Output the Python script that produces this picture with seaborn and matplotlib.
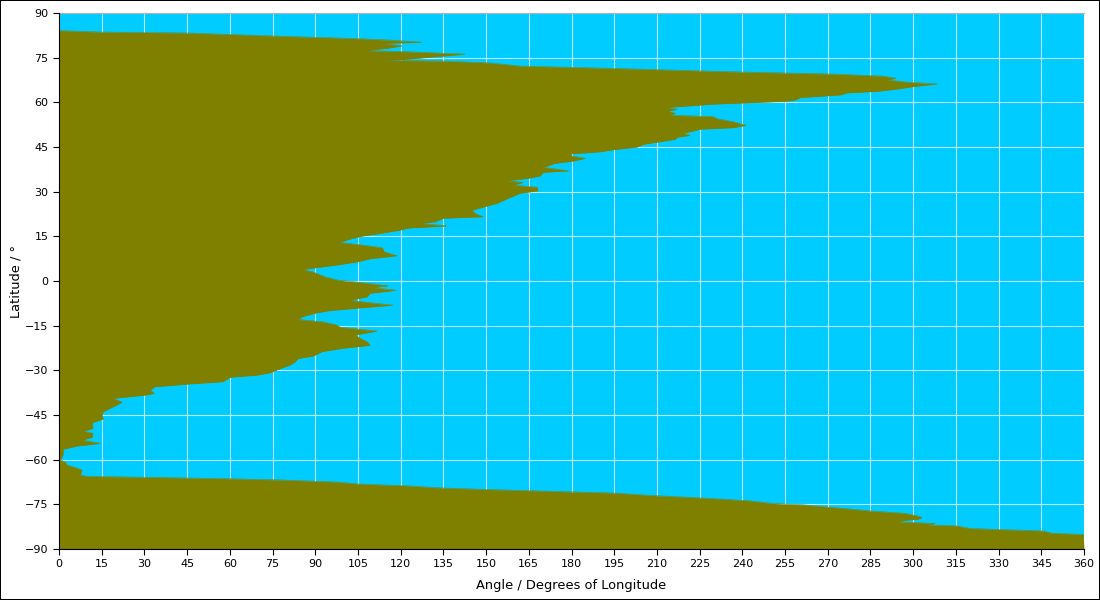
"""
plot.py: angle of longitude covered by land per latitude band
"""

import numpy as np
import pandas as pd
import matplotlib
matplotlib.use('Agg')
import matplotlib.pyplot as plt
import seaborn as sns

# ── Data ──────────────────────────────────────────────────────────────────────
latitude = [
    84.1, 83.6, 83.3, 82.3, 81.4, 80.9, 80.2, 79.8, 79.0, 78.2, 77.4, 77.0, 76.2, 75.1, 74.4,
    74.1, 73.9, 73.3, 72.9, 72.2, 71.4, 70.2, 69.5, 68.8, 68.1, 67.5, 66.7, 66.2, 65.3, 64.5,
    63.7, 63.2, 62.5, 61.6, 60.8, 60.4, 60.0, 59.4, 58.3, 57.7, 57.1, 56.3, 55.7, 55.2, 54.4,
    53.5, 52.3, 51.5, 51.0, 50.4, 49.6, 48.9, 48.3, 47.6, 46.8, 45.9, 45.0, 44.1, 43.4, 42.7,
    42.0, 41.2, 40.3, 39.5, 38.2, 37.0, 36.5, 35.3, 34.5, 33.7, 33.1, 32.2, 31.5, 30.3, 29.5,
    27.8, 26.1, 25.0, 23.8, 22.7, 21.6, 21.1, 19.9, 19.4, 18.5, 17.8, 17.1, 16.0, 15.1, 14.3,
    13.0, 12.3, 11.2, 9.8, 8.5, 7.5, 6.5, 5.4, 3.9, 2.8, 1.4, 0.3, -0.6, -1.6, -2.2,
    -3.1, -4.1, -5.3, -6.4, -7.1, -8.1, -9.0, -10.0, -10.8, -12.0, -12.9, -13.7, -14.8, -15.5, -16.8,
    -18.1, -19.2, -20.4, -21.6, -22.6, -23.7, -25.2, -26.0, -27.1, -28.2, -29.4, -30.8, -31.6, -32.3, -33.8,
    -34.6, -35.5, -36.6, -37.7, -38.3, -39.4, -40.7, -42.2, -43.9, -45.0, -46.3, -47.6, -49.5, -50.4, -51.1,
    -52.5, -53.4, -54.5, -55.4, -56.5, -58.4, -60.1, -60.7, -61.8, -62.6, -63.5, -65.1, -65.6, -65.9, -66.4,
    -66.8, -67.5, -68.2, -68.7, -69.5, -70.0, -70.7, -71.2, -72.0, -72.9, -73.8, -74.7, -75.2, -76.1, -76.6,
    -77.2, -78.0, -78.7, -79.4, -80.0, -80.4, -80.9, -81.4, -81.9, -82.2, -83.1, -83.5, -83.9, -84.7, -85.1,
    -90.0,
]
angle = [
    0.0, 15.1, 45.0, 75.2, 105.0, 116.3, 127.5, 113.8, 120.5, 115.6, 107.5, 122.2, 142.6, 129.6, 120.8,
    112.8, 133.8, 150.3, 154.9, 161.9, 194.6, 239.2, 271.9, 289.4, 294.0, 290.8, 298.9, 308.4, 300.0, 294.3,
    287.3, 276.8, 274.3, 260.3, 258.5, 255.7, 245.2, 229.7, 213.6, 217.1, 213.9, 216.4, 214.6, 229.7, 231.5,
    236.7, 241.3, 236.7, 225.2, 222.7, 219.2, 221.6, 217.1, 216.4, 211.1, 205.1, 203.0, 194.6, 190.0, 179.5,
    180.2, 184.8, 180.5, 174.2, 170.0, 179.1, 170.0, 169.0, 164.7, 157.4, 163.0, 159.5, 167.9, 168.2, 161.9,
    157.7, 153.8, 149.6, 145.0, 146.1, 148.9, 134.9, 132.1, 126.8, 136.3, 122.6, 119.8, 112.8, 106.4, 102.9,
    98.4, 104.7, 113.5, 114.2, 118.7, 109.2, 105.0, 97.6, 85.7, 89.9, 93.4, 98.0, 106.8, 115.6, 110.3,
    118.4, 109.2, 108.2, 102.2, 107.5, 117.3, 105.7, 94.5, 89.9, 85.4, 83.9, 92.7, 97.6, 98.7, 111.7,
    104.0, 105.7, 108.2, 109.2, 99.4, 92.4, 89.2, 83.9, 82.9, 81.1, 77.6, 74.1, 69.5, 60.1, 57.6,
    45.0, 33.7, 32.0, 33.4, 30.2, 19.0, 22.1, 19.0, 15.5, 15.1, 15.5, 11.6, 11.9, 8.4, 11.9,
    11.6, 8.1, 14.4, 6.3, 1.4, 1.4, 0.4, 2.1, 2.8, 5.6, 8.1, 7.4, 9.8, 30.9, 60.0,
    77.6, 97.6, 105.7, 120.8, 134.9, 150.3, 176.0, 195.3, 207.6, 226.9, 242.4, 250.8, 261.7, 272.6, 278.2,
    284.9, 296.8, 300.7, 303.1, 301.7, 296.8, 295.0, 307.7, 305.2, 315.1, 320.0, 331.9, 345.3, 348.8, 359.7,
    360.0,
]

X_TICKS = list(range(0, 361, 15))
Y_TICKS = list(range(-90, 91, 15))

OLIVE = '#808000'
SKY = '#00CCFF'


def main():
    df = pd.DataFrame({'angle': angle, 'latitude': latitude})

    sns.set_style('ticks', rc={
        'axes.facecolor': SKY,
        'axes.edgecolor': 'black',
        'axes.labelcolor': 'black',
        'text.color': 'black',
        'xtick.color': 'black',
        'ytick.color': 'black',
        'axes.grid': True,
        'grid.color': '#B8F0FF',
        'grid.linewidth': 0.9,
        'axes.axisbelow': True,
        'xtick.bottom': True,
        'ytick.left': True,
        'font.family': ['DejaVu Sans'],
    })

    fig = plt.figure(figsize=(11, 6), dpi=100)
    fig.patch.set_edgecolor('black')
    fig.patch.set_linewidth(1.4)
    ax = fig.add_axes([59 / 1100, 1 - 549 / 600, (1084 - 59) / 1100, (549 - 13) / 600])

    # silueta rellena desde el eje y
    ax.fill_betweenx(df['latitude'], 0, df['angle'], color=OLIVE, linewidth=0, zorder=2)
    sns.lineplot(data=df, x='angle', y='latitude', orient='y', sort=False, estimator=None,
                 color=OLIVE, linewidth=0.4, ax=ax, zorder=2)

    ax.set_xlim(0, 360)
    ax.set_ylim(-90, 90)
    ax.set_xticks(X_TICKS)
    ax.set_yticks(Y_TICKS)
    ax.tick_params(axis='both', labelsize=8, length=4.5, width=0.8, pad=3)
    ax.set_xlabel('Angle / Degrees of Longitude', fontsize=9.4, labelpad=7)
    ax.set_ylabel('Latitude / °', fontsize=9.4, labelpad=1.5)

    ax.spines['right'].set_visible(False)
    ax.spines['top'].set_color('#B0B0B0')
    for side in ('left', 'bottom'):
        ax.spines[side].set_linewidth(0.8)
        ax.spines[side].set_zorder(5)

    fig.savefig('out.png', dpi=100)


if __name__ == '__main__':
    main()
